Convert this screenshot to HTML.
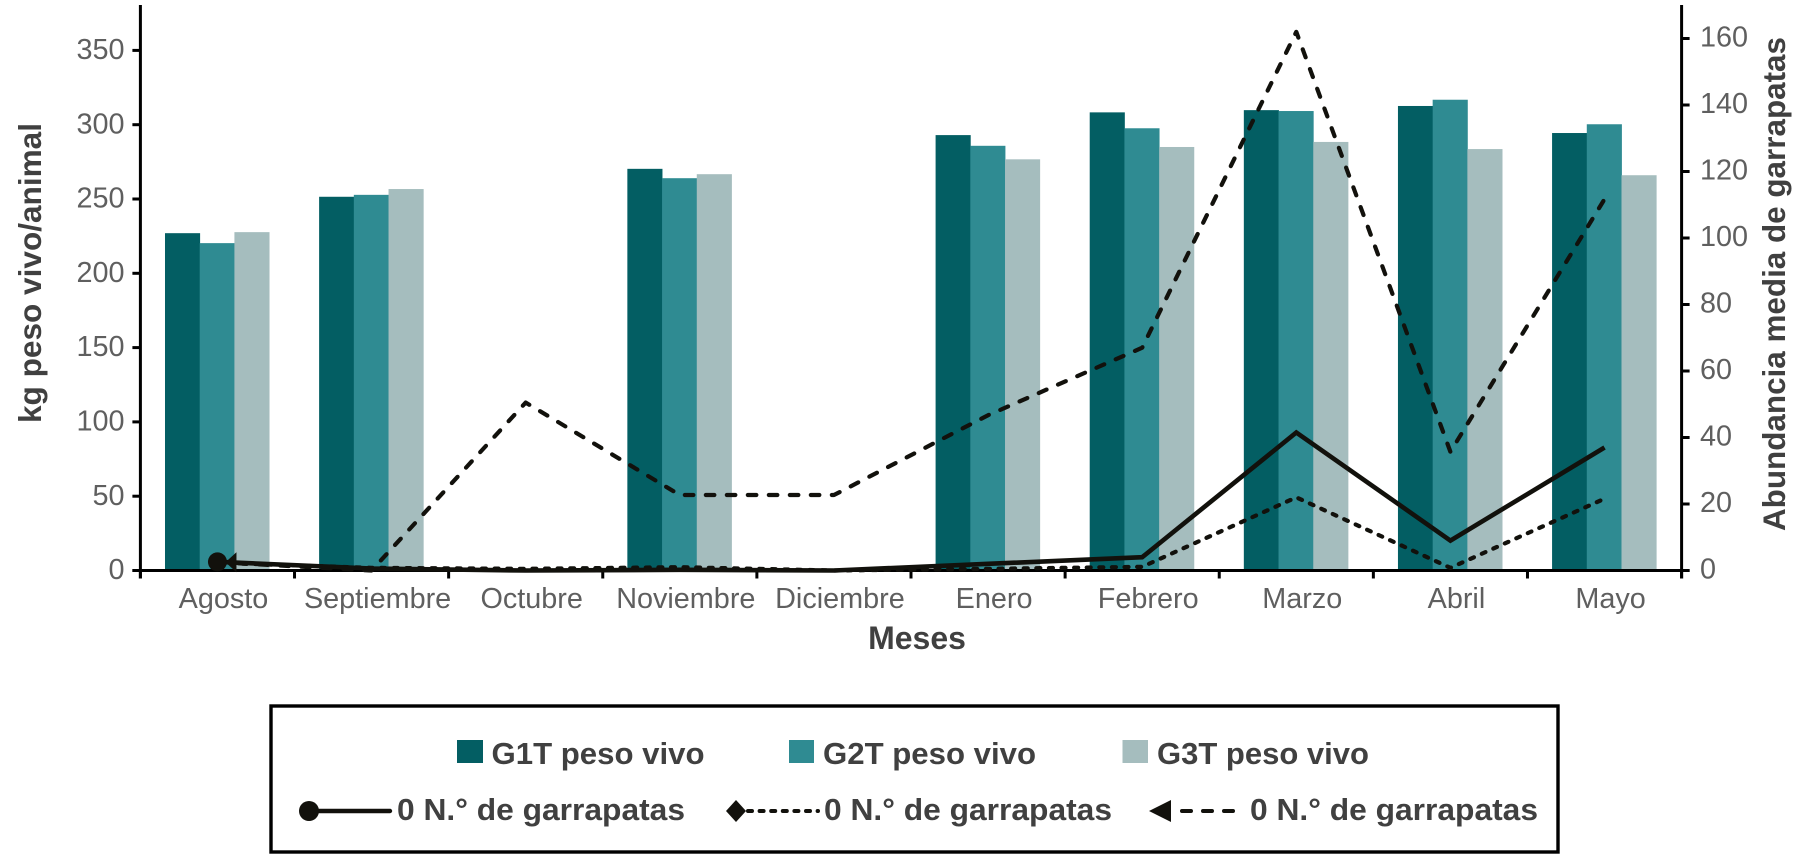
<!DOCTYPE html>
<html lang="es">
<head>
<meta charset="utf-8">
<title>Peso vivo y abundancia media de garrapatas</title>
<style>
  html, body { margin: 0; padding: 0; background: #fff; }
  svg { display: block; font-family: "Liberation Sans", Arial, sans-serif; }
  .tick { font-size: 28.8px; fill: #5f5f5f; }
  .title { font-size: 31.5px; font-weight: 700; fill: #404040; }
  .leg { font-size: 31px; font-weight: 700; fill: #404040; }
</style>
</head>
<body>
<svg id="chart" width="1799" height="858" viewBox="0 0 1799 858" xmlns="http://www.w3.org/2000/svg">
  <g id="bars"></g>
  <g id="axes"></g>
  <g id="lines"></g>

  <text class="title" transform="translate(41,273) rotate(-90)" text-anchor="middle" textLength="300" lengthAdjust="spacingAndGlyphs">kg peso vivo/animal</text>
  <text class="title" transform="translate(1785,284) rotate(-90)" text-anchor="middle" textLength="494" lengthAdjust="spacingAndGlyphs">Abundancia media de garrapatas</text>
  <text class="title" x="917" y="649" text-anchor="middle" style="font-size:32px">Meses</text>

  <g>
    <rect x="271" y="706" width="1287" height="146" fill="#fff" stroke="#000" stroke-width="3.4"/>

    <rect x="457" y="740" width="26" height="23" fill="#035e63"/>
    <text class="leg" x="491.5" y="764" textLength="213" lengthAdjust="spacingAndGlyphs">G1T peso vivo</text>

    <rect x="789" y="740" width="25" height="23" fill="#2f8b92"/>
    <text class="leg" x="823" y="764" textLength="213" lengthAdjust="spacingAndGlyphs">G2T peso vivo</text>

    <rect x="1122.5" y="740" width="25.5" height="23" fill="#a5bdbe"/>
    <text class="leg" x="1157" y="764" textLength="212" lengthAdjust="spacingAndGlyphs">G3T peso vivo</text>

    <line x1="309" y1="811" x2="390" y2="811" stroke="#12110c" stroke-width="4.4" stroke-linecap="round"/>
    <circle cx="309" cy="811" r="10" fill="#12110c"/>
    <text class="leg" x="397" y="820" textLength="288" lengthAdjust="spacingAndGlyphs">0 N.° de garrapatas</text>

    <line x1="748" y1="811" x2="818" y2="811" stroke="#12110c" stroke-width="4" stroke-dasharray="4 7.6" stroke-linecap="round"/>
    <polygon points="726,811 736,800 746,811 736,822" fill="#12110c"/>
    <text class="leg" x="824" y="820" textLength="288" lengthAdjust="spacingAndGlyphs">0 N.° de garrapatas</text>

    <line x1="1182" y1="811" x2="1233" y2="811" stroke="#12110c" stroke-width="4" stroke-dasharray="9 12" stroke-linecap="round"/>
    <polygon points="1149,811 1171,800 1171,822" fill="#12110c"/>
    <text class="leg" x="1250" y="820" textLength="288" lengthAdjust="spacingAndGlyphs">0 N.° de garrapatas</text>
  </g>
</svg>

<script>
const categories = ["Agosto","Septiembre","Octubre","Noviembre","Diciembre","Enero","Febrero","Marzo","Abril","Mayo"];
const g1Weight = [227, 251.5, null, 270.3, null, 293, 308.3, 309.8, 312.6, 294.4];
const g2Weight = [220.3, 252.8, null, 264, null, 285.8, 297.6, 309.2, 316.8, 300.3];
const g3Weight = [227.7, 256.7, null, 266.7, null, 276.7, 285, 288.4, 283.6, 266];
const solidTicks = [2.6, 0.6, 0, 0.2, 0, 2, 4, 41.5, 9, 37];
const dottedTicks = [2.3, 0.8, 0.5, 1, 0, 0.5, 1.1, 22, 0.8, 21.6];
const dashedTicks = [2.5, 0, 50.5, 22.7, 22.7, 46.7, 67, 162, 35.7, 111.7];
const leftTickLabels = [0, 50, 100, 150, 200, 250, 300, 350];
const rightTickLabels = [0, 20, 40, 60, 80, 100, 120, 140, 160];

const NS = "http://www.w3.org/2000/svg";
const plotLeft = 140.4, plotRight = 1681.6, plotBottom = 570.5, plotTop = 5;
const leftPxPerUnit = 74.3 / 50, rightPxPerUnit = 66.5 / 20;
const step = (plotRight - plotLeft) / categories.length;
const barWidth = step / 4.44;

function xBand(i) { return plotLeft + step * i; }
function xCenter(i) { return xBand(i) + step / 2; }
function yLeft(v) { return plotBottom - v * leftPxPerUnit; }
function yRight(v) { return plotBottom - v * rightPxPerUnit; }

function make(tag, attrs, parent) {
  const el = document.createElementNS(NS, tag);
  for (const k in attrs) el.setAttribute(k, attrs[k]);
  parent.appendChild(el);
  return el;
}

const barsLayer = document.getElementById("bars");
const axesLayer = document.getElementById("axes");
const linesLayer = document.getElementById("lines");

const barSeries = [
  { key: "g1t", values: g1Weight, color: "#035e63" },
  { key: "g2t", values: g2Weight, color: "#2f8b92" },
  { key: "g3t", values: g3Weight, color: "#a5bdbe" }
];
barSeries.forEach(function (s, si) {
  s.values.forEach(function (v, i) {
    if (v === null) return;
    const bar = make("rect", {
      x: xCenter(i) - 1.5 * barWidth + si * barWidth - 0.4,
      y: yLeft(v),
      width: barWidth + 0.4,
      height: plotBottom - yLeft(v),
      fill: s.color
    }, barsLayer);
    
    
  });
});

const axisLeft = make("line", { x1: plotLeft, y1: plotTop, x2: plotLeft, y2: plotBottom + 8, stroke: "#000", "stroke-width": 3 }, axesLayer);


const axisRight = make("line", { x1: plotRight, y1: plotTop, x2: plotRight, y2: plotBottom + 8, stroke: "#000", "stroke-width": 3 }, axesLayer);


const axisBottom = make("line", { x1: plotLeft - 8, y1: plotBottom, x2: plotRight + 8, y2: plotBottom, stroke: "#000", "stroke-width": 3 }, axesLayer);



leftTickLabels.forEach(function (v) {
  const t = make("line", { x1: plotLeft - 8, y1: yLeft(v), x2: plotLeft, y2: yLeft(v), stroke: "#000", "stroke-width": 3 }, axesLayer);
  
  
  const l = make("text", { class: "tick", x: 124.5, y: yLeft(v) + 8.6, "text-anchor": "end" }, axesLayer);
  l.textContent = v;
  
  
});

rightTickLabels.forEach(function (v) {
  const t = make("line", { x1: plotRight, y1: yRight(v), x2: plotRight + 8, y2: yRight(v), stroke: "#000", "stroke-width": 3 }, axesLayer);
  
  
  const l = make("text", { class: "tick", x: 1700, y: yRight(v) + 8.2, "text-anchor": "start" }, axesLayer);
  l.textContent = v;
  
  
});

categories.forEach(function (c, i) {
  const t = make("line", { x1: xBand(i), y1: plotBottom, x2: xBand(i), y2: plotBottom + 8, stroke: "#000", "stroke-width": 3 }, axesLayer);
  
  
  const l = make("text", { class: "tick", x: xCenter(i) + 6, y: 608, "text-anchor": "middle" }, axesLayer);
  l.textContent = c;
  
  
});
const tEnd = make("line", { x1: plotRight, y1: plotBottom, x2: plotRight, y2: plotBottom + 8, stroke: "#000", "stroke-width": 3 }, axesLayer);



function linePoints(values) {
  return values.map(function (v, i) { return xCenter(i) + "," + yRight(v); }).join(" ");
}

const lineDashed = make("polyline", { points: linePoints(dashedTicks), fill: "none", stroke: "#12110c", "stroke-width": 4.2, "stroke-dasharray": "8.5 12.5", "stroke-linecap": "round", "stroke-linejoin": "round" }, linesLayer);


const lineDotted = make("polyline", { points: linePoints(dottedTicks), fill: "none", stroke: "#12110c", "stroke-width": 4.2, "stroke-dasharray": "4 8.6", "stroke-linecap": "round", "stroke-linejoin": "round" }, linesLayer);


const lineSolid = make("polyline", { points: linePoints(solidTicks), fill: "none", stroke: "#12110c", "stroke-width": 4.6, "stroke-linejoin": "miter" }, linesLayer);



const firstX = xCenter(0);
const dotMarker = make("circle", { cx: firstX, cy: yRight(solidTicks[0]), r: 9.5, fill: "#12110c" }, linesLayer);


const triY = yRight(dashedTicks[0]);
const triMarker = make("polygon", { points: (firstX + 8) + "," + triY + " " + (firstX + 19) + "," + (triY - 10) + " " + (firstX + 19) + "," + (triY + 10), fill: "#12110c" }, linesLayer);


</script>
</body>
</html>
